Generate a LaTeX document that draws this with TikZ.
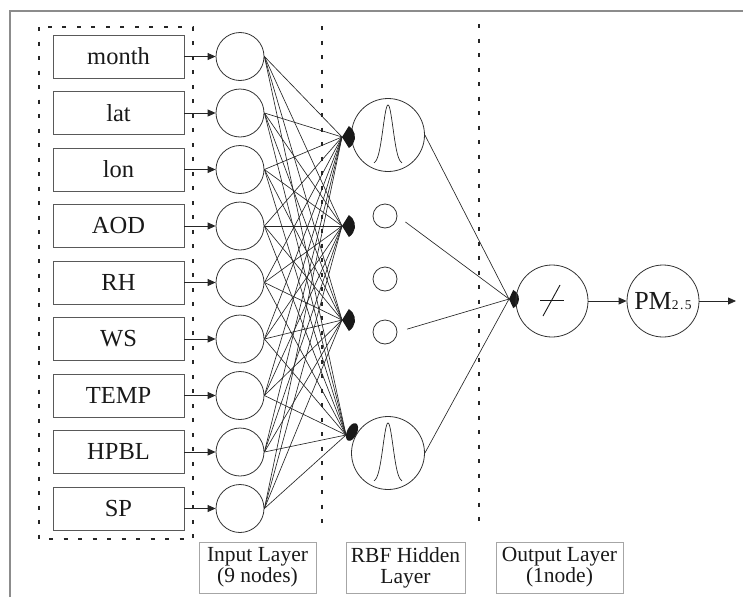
\documentclass[tikz,border=0pt]{standalone}
\usepackage{fontspec}
\setmainfont{Liberation Serif}
\usetikzlibrary{arrows.meta,shapes.geometric}

\begin{document}
\begin{tikzpicture}[x=1pt,y=-1pt,
  inbox/.style={draw=black!65, line width=0.8pt, minimum width=131pt, minimum height=43pt,
    inner sep=0pt, font=\fontsize{24.5}{24.5}\selectfont, text=black!90},
  neuron/.style={circle, draw=black!80, line width=0.8pt, minimum size=48pt, inner sep=0pt},
  rbf/.style={circle, draw=black!80, line width=0.8pt, minimum size=73pt, inner sep=0pt},
  small/.style={circle, draw=black!80, line width=0.8pt, minimum size=24pt, inner sep=0pt},
  link/.style={line width=0.65pt, draw=black!85},
  arr/.style={-{Triangle[length=8pt,width=7pt]}, line width=0.8pt, draw=black!85, fill=black!85},
  sep/.style={line width=2pt, dash pattern=on 4pt off 10.5pt, draw=black!85},
  tag/.style={draw=black!35, line width=0.8pt, align=center, inner sep=0pt,
    minimum height=51pt, font=\fontsize{21.5}{21}\selectfont, text=black!90}]
\useasboundingbox (0,0) rectangle (743,597);

% frame
\draw[black!45, line width=1.3pt] (10,597) -- (10,11) -- (743,11);

% input group and layer separators
\draw[sep] (39,27) rectangle (193,539);
\draw[sep] (322,26) -- (322,530);
\draw[sep] (479,24) -- (479,528);

% convergence points of the hidden units and the output unit
\coordinate (a1) at (342,137);
\coordinate (a2) at (342,226);
\coordinate (a3) at (342,320);
\coordinate (a4) at (346,435);
\coordinate (ao) at (509,299);

% input variables and input neurons
\foreach \t [count=\k from 0] in {month,lat,lon,AOD,RH,WS,TEMP,HPBL,SP} {
  \node[inbox] (b\k) at (118.5,{56.5+56.5*\k}) {\t};
  \node[neuron] (i\k) at (240,{56.5+56.5*\k}) {};
  \draw[arr] (b\k.east) -- (i\k.west);
  \foreach \j in {1,2,3,4} {
    \draw[link] (i\k.east) -- (a\j);
  }
}

% hidden RBF layer
\node[rbf] (h1) at (388,135) {};
\node[small] (s1) at (385,216) {};
\node[small] (s2) at (385,279) {};
\node[small] (s3) at (385,332) {};
\node[rbf] (h2) at (388,453) {};
\foreach \h in {h1,h2} {
  \draw[line width=0.7pt, black!85, shift={(\h.center)}]
    plot[domain=-14:14, samples=80, smooth] (\x,{29-59*exp(-(\x*\x)/50)});
}

% weight markers
\foreach \a in {a1,a2,a3} {
  \fill[black!90] (\a) -- ++(58:13pt) arc[start angle=58, end angle=-58, radius=13pt] -- cycle;
}
\node[ellipse, fill=black!90, minimum width=19pt, minimum height=10pt, inner sep=0pt, rotate=65] at (352,432) {};
\fill[black!90] (ao) -- ++(65:10pt) arc[start angle=65, end angle=-65, radius=10pt] -- cycle;

% hidden to output
\draw[link] (h1.east) -- (ao);
\draw[link, shorten <=10pt] (s1.east) -- (ao);
\draw[link, shorten <=10pt] (s3.east) -- (ao);
\draw[link] (h2.east) -- (ao);

% output neuron and result
\node[rbf, minimum size=72pt] (o) at (552,301) {};
\draw[line width=0.9pt, black!90] (540,300) -- (564,300);
\draw[line width=0.9pt, black!90] (543,316) -- (560,285);
\node[rbf, minimum size=72pt, font=\fontsize{26}{26}\selectfont, text=black!90] (pm) at (663,301)
  {PM{\fontsize{13.5}{13.5}\selectfont 2\kern1.5pt.\kern1.5pt5}};
\coordinate (end) at (736,301);
\draw[arr] (o.east) -- (pm.west);
\draw[arr] (pm.east) -- (end);

% layer captions
\node[tag, minimum width=117pt] (t1) at (257.5,567.5) {Input Layer\\(9 nodes)};
\node[tag, minimum width=119pt] (t2) at (405.5,567.5) {RBF Hidden\\Layer};
\node[tag, minimum width=127pt] (t3) at (559.5,567.5) {Output Layer\\(1node)};
\end{tikzpicture}
\end{document}
